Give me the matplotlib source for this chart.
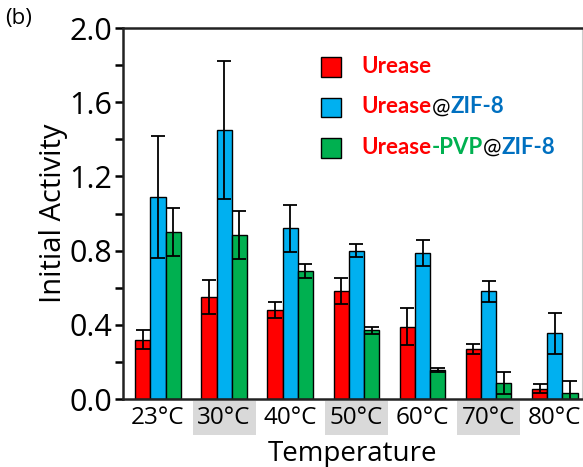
import matplotlib
matplotlib.use("Agg")
import matplotlib.pyplot as plt
import numpy as np
from matplotlib.offsetbox import (AnchoredOffsetbox, DrawingArea, HPacker,
                                  TextArea, VPacker)
from matplotlib.patches import Rectangle

temps = ["23°C", "30°C", "40°C", "50°C", "60°C", "70°C", "80°C"]

urease = [0.32, 0.55, 0.48, 0.58, 0.39, 0.27, 0.055]
urease_err = [0.05, 0.09, 0.045, 0.07, 0.10, 0.025, 0.025]

urease_zif = [1.09, 1.45, 0.92, 0.80, 0.785, 0.58, 0.355]
urease_zif_err = [0.33, 0.37, 0.125, 0.035, 0.07, 0.055, 0.11]

urease_pvp_zif = [0.90, 0.885, 0.69, 0.37, 0.155, 0.085, 0.03]
urease_pvp_zif_err = [0.13, 0.13, 0.04, 0.02, 0.01, 0.06, 0.066]

RED = "#ff0000"
BLUE = "#00b0f0"
GREEN = "#00b050"
DARKBLUE = "#0070c0"

plt.rcParams["font.family"] = ["Open Sans", "DejaVu Sans"]

fig = plt.figure(figsize=(5.83, 4.67), dpi=100)
ax = fig.add_axes([0.211, 0.1456, 0.787, 0.7944])

x = np.arange(len(temps))
w = 0.23
err_kw = dict(ecolor="black", elinewidth=1.3, capsize=5, capthick=1.3)
series = [(urease, urease_err, RED), (urease_zif, urease_zif_err, BLUE),
          (urease_pvp_zif, urease_pvp_zif_err, GREEN)]
for i, (vals, errs, col) in enumerate(series):
    ax.bar(x + (i - 1) * w, vals, w, yerr=errs, color=col,
           edgecolor="black", linewidth=1.0, error_kw=err_kw, zorder=2)

ax.set_xlim(-0.53, 6.41)
ax.set_ylim(0, 2.0)
ax.set_yticks(np.arange(0, 2.01, 0.4))
ax.set_yticks(np.arange(0, 2.01, 0.2), minor=True)
ax.set_yticklabels([f"{v:.1f}" for v in np.arange(0, 2.01, 0.4)],
                   fontsize=22)
ax.tick_params(axis="y", which="both", direction="out", length=6,
               width=1.8, pad=2)
ax.set_xticks(x)
ax.set_xticklabels(temps, fontsize=17.5)
ax.tick_params(axis="x", length=0, pad=5)
for i, lab in enumerate(ax.get_xticklabels()):
    if i % 2 == 1:
        lab.set_bbox(dict(boxstyle="square,pad=0.2", facecolor="#d9d9d9",
                          edgecolor="none"))

for s in ["left", "bottom", "top"]:
    ax.spines[s].set_linewidth(1.8)
    ax.spines[s].set_color("#222222")
ax.spines["right"].set_linewidth(0.8)
ax.spines["right"].set_color("#cccccc")

ax.set_ylabel("Initial Activity", fontsize=21, labelpad=1)
ax.set_xlabel("Temperature", fontsize=20, labelpad=7)

fig.text(0.008, 0.96, "(b)", fontsize=16, ha="left", va="center")

# legend with multicoloured labels
legend_rows = [
    (RED, [("Urease", RED)]),
    (BLUE, [("Urease", RED), ("@", "black"), ("ZIF-8", DARKBLUE)]),
    (GREEN, [("Urease", RED), ("-PVP", GREEN), ("@", "black"),
             ("ZIF-8", DARKBLUE)]),
]
rows = []
for col, parts in legend_rows:
    da = DrawingArea(15, 15, 0, 0)
    da.add_artist(Rectangle((0, 0), 14, 14, facecolor=col,
                            edgecolor="black", linewidth=1))
    pieces = []
    for txt, tc in parts:
        fw = "normal" if txt == "@" else "bold"
        pieces.append(TextArea(txt, textprops=dict(color=tc, fontsize=16,
                                                   fontweight=fw,
                                                   family="Lato")))
    label = HPacker(children=pieces, align="baseline", pad=0, sep=0)
    rows.append(HPacker(children=[da, label], align="center", pad=0, sep=14))
box = VPacker(children=rows, align="left", pad=0, sep=14)
anch = AnchoredOffsetbox(loc="upper left", child=box, frameon=False,
                         bbox_to_anchor=(0.42, 0.94),
                         bbox_transform=ax.transAxes, borderpad=0)
ax.add_artist(anch)

fig.savefig("out.png", dpi=100)
